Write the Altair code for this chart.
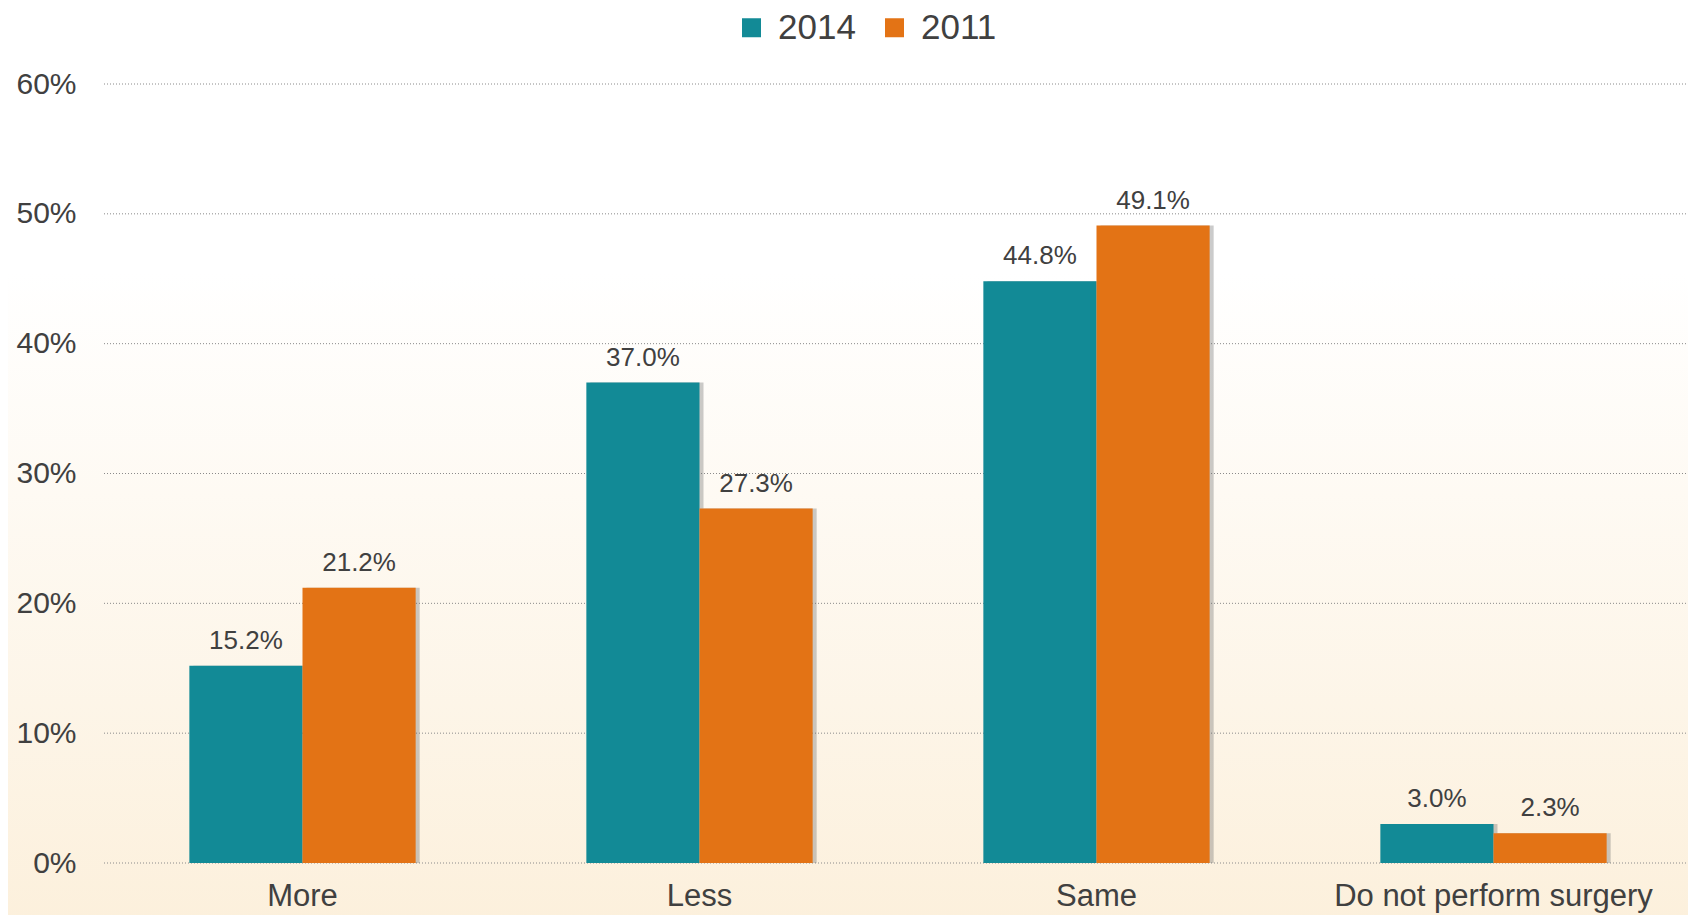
import altair as alt
import pandas as pd

categories = ["More", "Less", "Same", "Do not perform surgery"]
years = ["2014", "2011"]
values_2014 = [15.2, 37.0, 44.8, 3.0]
values_2011 = [21.2, 27.3, 49.1, 2.3]
y_ticks = [0, 10, 20, 30, 40, 50, 60]
colors = ["#128a96", "#e37315"]

rows = []
for c, a, b in zip(categories, values_2014, values_2011):
    rows.append({"category": c, "year": "2014", "value": a})
    rows.append({"category": c, "year": "2011", "value": b})
df = pd.DataFrame(rows)
grid_df = pd.DataFrame({"tick": y_ticks})

W, H = 1584, 779
XR = 1588
P_IN, P_OUT = 0.43, 0.215
BAND = XR / (4 - P_IN + 2 * P_OUT) * (1 - P_IN)
FONT = "Liberation Sans"
TXT = "#404040"

bg = alt.Chart(alt.Data(values=[{"k": 1}])).mark_rect(
    fill=alt.Gradient(
        gradient="linear",
        stops=[
            alt.GradientStop(color="#ffffff", offset=0.0),
            alt.GradientStop(color="#ffffff", offset=0.3),
            alt.GradientStop(color="#fcf0dc", offset=1.0),
        ],
        x1=0, x2=0, y1=0, y2=1,
    ),
    clip=False,
).encode(
    x=alt.value(-100), x2=alt.value(W + 20),
    y=alt.value(-90), y2=alt.value(H + 60),
)

grid = alt.Chart(grid_df).mark_rule(
    color="#8a8a8a", strokeDash=[1, 2], strokeWidth=1
).encode(
    y=alt.Y("tick:Q", title=None, scale=alt.Scale(domain=[0, 60], nice=False)),
    x=alt.value(0), x2=alt.value(W),
)

x_enc = alt.X(
    "category:N",
    sort=categories,
    title=None,
    scale=alt.Scale(paddingInner=P_IN, paddingOuter=P_OUT, range=[0, XR]),
    axis=alt.Axis(
        labelAngle=0, labelFontSize=31, labelColor=TXT, labelFont=FONT,
        labelPadding=18, labelLimit=600, ticks=False, domain=False,
        grid=False, zindex=1,
    ),
)
y_enc = alt.Y(
    "value:Q",
    title=None,
    scale=alt.Scale(domain=[0, 60], nice=False),
    axis=alt.Axis(
        values=y_ticks, labelExpr="datum.value + '%'", labelFontSize=30,
        labelColor=TXT, labelFont=FONT, labelPadding=28, ticks=False,
        domain=False, grid=False, zindex=1,
    ),
)


def xoff(shift=0):
    return alt.XOffset(
        "year:N", sort=years,
        scale=alt.Scale(type="band", paddingInner=0, paddingOuter=0,
                        range=[shift, BAND + shift]),
    )


shadow = alt.Chart(df).mark_bar(color="#6a6a6a", opacity=0.35).encode(
    x=x_enc,
    xOffset=xoff(4),
    y=y_enc,
    y2=alt.value(H + 3),
)

bars = alt.Chart(df).mark_bar().encode(
    x=x_enc,
    xOffset=xoff(0),
    y=y_enc,
    color=alt.Color(
        "year:N",
        sort=years,
        scale=alt.Scale(domain=years, range=colors),
        legend=alt.Legend(
            title=None, orient="none", legendX=630, legendY=-74,
            direction="horizontal", symbolType="square", symbolSize=361,
            symbolStrokeWidth=0, labelFontSize=35, labelColor=TXT,
            labelFont=FONT, labelOffset=9, columnPadding=21,
        ),
    ),
)

labels = alt.Chart(df).transform_calculate(
    label="format(datum.value, '.1f') + '%'"
).mark_text(
    baseline="bottom", dy=-12, fontSize=26, font=FONT, color=TXT
).encode(
    x=x_enc,
    xOffset=alt.XOffset(
        "year:N", sort=years,
        scale=alt.Scale(type="point", padding=0,
                        range=[BAND / 4, 3 * BAND / 4]),
    ),
    y=y_enc,
    text="label:N",
)

chart = alt.layer(bg, grid, shadow, bars, labels).resolve_scale(
    xOffset="independent"
).properties(
    width=W, height=H,
    padding={"left": 96, "top": 76, "right": 0, "bottom": 52},
    autosize=alt.AutoSizeParams(type="none"),
    background="#ffffff",
).configure_view(stroke=None)

chart.save("out.html", embed_options={"renderer": "svg", "actions": False})
